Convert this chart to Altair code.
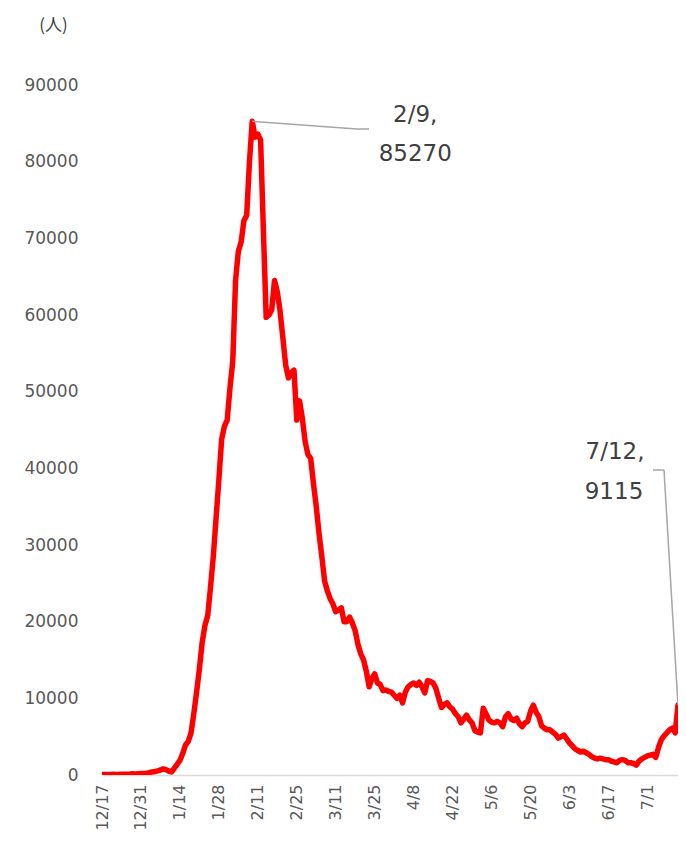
import altair as alt
import pandas as pd

start_date = "2021-12-17"
end_date = "2022-07-12"

patients = [
    60, 70, 60, 80, 90, 70, 80, 100, 110, 100,
    120, 150, 140, 170, 200, 180, 220, 300, 400, 450,
    550, 650, 800, 700, 500, 400, 900, 1400, 1900, 2800,
    3900, 4400, 5500, 8000, 10800, 13800, 17300, 19500, 20800, 24500,
    28500, 33500, 38500, 43800, 45500, 46300, 50500, 54000, 64500, 68300,
    69500, 72300, 73000, 80000, 85270, 83200, 83600, 82800, 71000, 59700,
    60000, 60700, 64500, 63000, 60500, 57000, 53500, 51800, 52500, 52800,
    46300, 48800, 46500, 43500, 41800, 41300, 38000, 35000, 31500, 28500,
    25300, 24000, 23000, 22300, 21300, 21500, 21800, 20000, 20000, 20600,
    19800, 18800, 17000, 15800, 15000, 13500, 11500, 12600, 13200, 12000,
    11800, 11000, 11100, 10900, 10800, 10400, 10000, 10400, 9400, 10800,
    11500, 11800, 12000, 11700, 12100, 11500, 10700, 12300, 12200, 12000,
    11300, 10000, 8800, 9200, 9400, 8900, 8600, 8000, 7600, 6800,
    7300, 7800, 7200, 6800, 5800, 5600, 5500, 8700, 8000, 7200,
    6900, 6800, 7000, 6800, 6300, 7600, 8000, 7300, 7100, 7400,
    6700, 6300, 6800, 7000, 8300, 9100, 8200, 7600, 6400, 6100,
    5900, 5900, 5600, 5300, 4800, 5000, 5200, 4700, 4200, 3800,
    3400, 3200, 3000, 3100, 2900, 2700, 2400, 2200, 2100, 2200,
    2100, 2000, 2000, 1800, 1700, 1600, 1900, 2000, 1900, 1600,
    1600, 1500, 1300, 1800, 2100, 2300, 2500, 2600, 2700, 2300,
    3600, 4600, 5100, 5500, 5900, 6100, 5500, 9115,
]

tick_dates = [
    (2021, 12, 17), (2021, 12, 31), (2022, 1, 14), (2022, 1, 28),
    (2022, 2, 11), (2022, 2, 25), (2022, 3, 11), (2022, 3, 25),
    (2022, 4, 8), (2022, 4, 22), (2022, 5, 6), (2022, 5, 20),
    (2022, 6, 3), (2022, 6, 17), (2022, 7, 1),
]
y_ticks = [0, 10000, 20000, 30000, 40000, 50000, 60000, 70000, 80000, 90000]
y_unit = "(人)"

dates = pd.date_range(start_date, end_date, freq="D")
df = pd.DataFrame({"date": dates, "value": patients})

peak_i = int(df["value"].idxmax())
last_i = len(df) - 1


def ann_row(i):
    d = df.loc[i, "date"]
    return {
        "date": d,
        "value": int(df.loc[i, "value"]),
        "l1": f"{d.month}/{d.day},",
        "l2": str(int(df.loc[i, "value"])),
    }


peak_df = pd.DataFrame([ann_row(peak_i)])
last_df = pd.DataFrame([ann_row(last_i)])

W, H = 576, 690
x_scale = alt.Scale(
    domain=[alt.DateTime(year=2021, month=12, date=17), alt.DateTime(year=2022, month=7, date=12)],
    nice=False,
)
y_scale = alt.Scale(domain=[0, 90000], nice=False)

x_enc = alt.X(
    "date:T",
    scale=x_scale,
    axis=alt.Axis(
        values=[alt.DateTime(year=a, month=b, date=c) for a, b, c in tick_dates],
        format="%-m/%-d",
        labelAngle=-90,
        labelFont="DejaVu Sans",
        labelFontSize=16,
        labelColor="#595959",
        labelPadding=9,
        ticks=False,
        grid=False,
        domainColor="#d9d9d9",
        domainWidth=1.5,
        title=None,
        labelOverlap=False,
        labelBound=False,
        labelFlush=False,
    ),
)
y_enc = alt.Y(
    "value:Q",
    scale=y_scale,
    axis=alt.Axis(
        values=y_ticks,
        format="d",
        labelFont="DejaVu Sans",
        labelFontSize=17,
        labelColor="#595959",
        labelPadding=24,
        ticks=False,
        grid=False,
        domain=False,
        title=y_unit,
        titleAngle=0,
        titleFont="Noto Sans CJK JP",
        titleFontSize=17,
        titleFontWeight="normal",
        titleColor="#404040",
        titleX=-49,
        titleY=-60,
        titleAlign="center",
        titleBaseline="middle",
    ),
)

line = alt.Chart(df).mark_line(
    color="#ff0000", strokeWidth=5.5, strokeJoin="round", strokeCap="round", clip=True
).encode(x=x_enc, y=y_enc)

lead_col = "#a6a6a6"
peak_lead1 = alt.Chart(peak_df).mark_rule(color=lead_col, strokeWidth=1.5).encode(
    x="date:T", y="value:Q", x2=alt.value(255), y2=alt.value(44)
)
peak_lead2 = alt.Chart(peak_df).mark_rule(color=lead_col, strokeWidth=1.5).encode(
    x=alt.value(255), x2=alt.value(267), y=alt.value(44)
)
txt_kw = dict(font="DejaVu Sans", fontSize=23, color="#404040", align="center", baseline="middle")
peak_t1 = alt.Chart(peak_df).mark_text(dx=163, dy=-6, **txt_kw).encode(x="date:T", y="value:Q", text="l1:N")
peak_t2 = alt.Chart(peak_df).mark_text(dx=163, dy=33, **txt_kw).encode(x="date:T", y="value:Q", text="l2:N")

last_lead1 = alt.Chart(last_df).mark_rule(color=lead_col, strokeWidth=1.5).encode(
    x="date:T", y="value:Q", x2=alt.value(562), y2=alt.value(385)
)
last_lead2 = alt.Chart(last_df).mark_rule(color=lead_col, strokeWidth=1.5).encode(
    x=alt.value(551), x2=alt.value(562), y=alt.value(385)
)
last_t1 = alt.Chart(last_df).mark_text(dx=-63, dy=-253, **txt_kw).encode(x="date:T", y="value:Q", text="l1:N")
last_t2 = alt.Chart(last_df).mark_text(dx=-64, dy=-213, **txt_kw).encode(x="date:T", y="value:Q", text="l2:N")

chart = alt.layer(
    line, peak_lead1, peak_lead2, peak_t1, peak_t2, last_lead1, last_lead2, last_t1, last_t2
).properties(
    width=W,
    height=H,
    autosize=alt.AutoSizeParams(type="none"),
    padding={"left": 94, "top": 77, "right": 0, "bottom": 59},
).configure(background="white").configure_view(stroke=None)

chart.save("out.html", embed_options={"renderer": "svg", "actions": False})
